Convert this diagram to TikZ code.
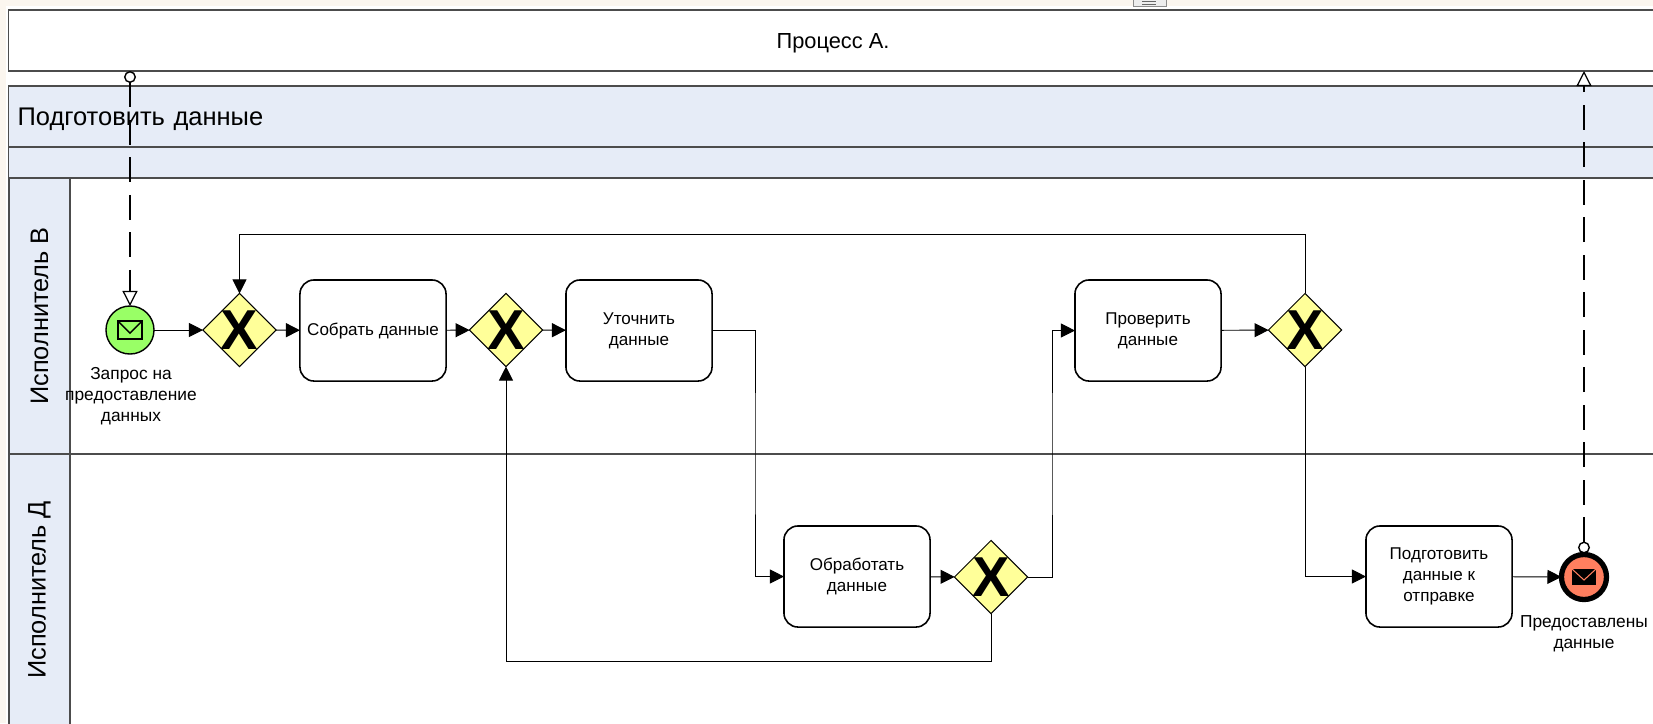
\documentclass[tikz,border=0pt]{standalone}
\usepackage{fontspec}
\setmainfont{Liberation Sans}
\usetikzlibrary{arrows.meta, positioning, shapes.geometric}

\begin{document}
\begin{tikzpicture}[x=0.01cm, y=-0.01cm, >={Stealth[inset=0pt, length=0.14cm, width=0.14cm]}, line width=0.27pt]
      % Node style
      \tikzset{
        panel/.style={draw=black!70, line width=0.37pt, fill=#1, rectangle, outer sep=0pt, inner sep=0pt, align=center},
        panel/.default=white,
        lanehead/.style={panel=headblue, rotate=90, minimum height=0.61cm, font=\fontsize{7.2pt}{8pt}\selectfont},
        lanebody/.style={panel=white, minimum width=15.87cm},
        mytask/.style={draw, fill=white, rectangle, rounded corners=0.14cm, line width=0.45pt, outer sep=0pt, minimum width=1.46cm, minimum height=1.01cm, align=center, inner sep=0pt, font=\fontsize{4.85pt}{5.97pt}\selectfont},
        mygate/.style={draw, line width=0.3pt, fill=gateyellow, diamond, aspect=1, inner sep=-3pt, outer sep=0pt, minimum width=0.73cm, minimum height=0.73cm, font=\fontsize{16pt}{16pt}\bfseries\selectfont},
        myevent/.style={draw, fill=#1, circle, inner sep=0pt, outer sep=0pt, minimum size=0.48cm, line width=0.4pt},
        endevent/.style={myevent=#1, line width=1.5pt, minimum size=0.45cm},
        knob/.style={draw, fill=white, circle, inner sep=0pt, outer sep=0pt, minimum size=0.105cm, line width=0.4pt},
        mylabel/.style={align=center, inner sep=0pt, font=\fontsize{4.93pt}{5.97pt}\selectfont},
        msgflow/.style={line width=0.35pt, dash pattern=on 0.25cm off 0.125cm, -{Stealth[inset=0pt, length=0.15cm, width=0.15cm, fill=white]}},
        mailopen/.pic={
          \draw[line width=0.4pt] (-12,-9) rectangle (12,9);
          \draw[line width=0.4pt] (-12,-9) -- (0,3) -- (12,-9);
        },
        mailfull/.pic={
          \fill (-12,-8) rectangle (12,8);
          \draw[endred, line width=0.3pt] (-12,-8) -- (0,3) -- (12,-8);
        },
      }
      \definecolor{paper}{HTML}{FBF6EF}
      \definecolor{headblue}{HTML}{E6ECF7}
      \definecolor{gateyellow}{HTML}{FFFF99}
      \definecolor{startgreen}{HTML}{99FF66}
      \definecolor{endred}{HTML}{FF7F5F}
      \path[use as bounding box, clip] (0,0) rectangle (1653,723);
      % Window
      \fill[paper] (0,0) rectangle (1653,723);
      \fill[white] (6,6) rectangle (1653,723);
      \draw[draw=black!45, fill=black!7] (1133,-3) rectangle (1166,6);
      \draw[black!60] (1142,1) -- (1156,1);
      \draw[black!60] (1142,4) -- (1156,4);
      % Pool and lanes
      \node (pool) [panel, minimum width=16.48cm, minimum height=0.61cm, text depth=0pt, font=\fontsize{6.2pt}{7pt}\selectfont] at (833,40.5) {Процесс А.};
      \node (title) [panel=headblue, minimum width=16.48cm, minimum height=0.61cm, text width=16.30cm, text depth=0pt, align=left, font=\fontsize{7.25pt}{8pt}\selectfont] at (833,116.5) {Подготовить данные};
      \node (band) [panel=headblue, minimum width=16.48cm, minimum height=0.31cm] at (833,162.5) {};
      \node (bodyb) [lanebody, minimum height=2.76cm] at (863.5,316) {};
      \node (bodyd) [lanebody, minimum height=2.72cm] at (863.5,590) {};
      \node (laneb) [lanehead, minimum width=2.76cm] at (39.5,316) {Исполнитель В};
      \node (laned) [lanehead, minimum width=2.72cm] at (39.5,590) {Исполнитель Д};
      % Nodes
      \node (request) [myevent=startgreen] at (130,330) {};
      \node (gatea) [mygate] at (239.5,330) {X};
      \node (collect) [mytask] at (373,330.5) {Собрать данные};
      \node (gateb) [mygate] at (506,330) {X};
      \node (refine) [mytask] at (639,330.5) {Уточнить\\данные};
      \node (treat) [mytask] at (857,576.5) {Обработать\\данные};
      \node (gatec) [mygate] at (991,577) {X};
      \node (verify) [mytask] at (1148,330.5) {Проверить\\данные};
      \node (gated) [mygate] at (1305,330) {X};
      \node (prepare) [mytask] at (1439,576.5) {Подготовить\\данные к\\отправке};
      \node (provided) [endevent=endred] at (1584,577) {};
      \node (srcknob) [knob] at (130,77) {};
      \node (endknob) [knob] at (1584,547.5) {};
      \pic at (request) {mailopen};
      \pic at (provided) {mailfull};
      % Labels
      \node (requestlabel) [mylabel] at (131,396.5) {Запрос на\\предоставление\\данных};
      \node (providedlabel) [mylabel] at (1584,633.5) {Предоставлены\\данные};
      % Turning points
      \coordinate (looptop) at (772,234);
      \coordinate (loopback) at (748,661);
      \coordinate (turnleft) at (755,454);
      \coordinate (turnright) at (1052,454);
      \coordinate (poolport) at (1584,71);
      % Arrows
      \draw[->] (request) -- (gatea);
      \draw[->] (gatea) -- (collect);
      \draw[->] (collect) -- (gateb);
      \draw[->] (gateb) -- (refine);
      \draw[->] (refine.east) -| (turnleft) |- (treat.west);
      \draw[->] (treat) -- (gatec);
      \draw[->] (gatec.east) -| (turnright) |- (verify.west);
      \draw[->] (gatec.south) |- (loopback) -| (gateb.south);
      \draw[->] (verify) -- (gated);
      \draw[->] (gated.north) |- (looptop) -| (gatea.north);
      \draw[->] (gated.south) |- (prepare.west);
      \draw[->] (prepare) -- (provided);
      \draw[msgflow] (srcknob) -- (request);
      \draw[msgflow] (endknob) -- (poolport);
    \end{tikzpicture}
\end{document}
